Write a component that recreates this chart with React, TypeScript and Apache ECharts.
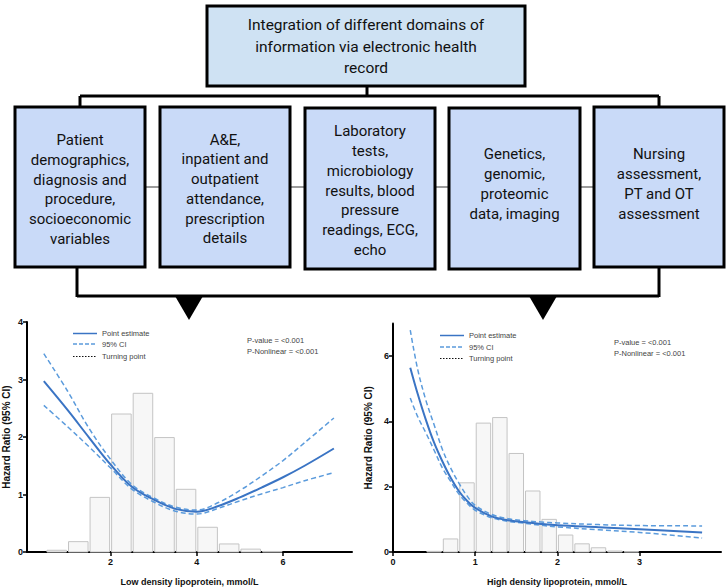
import React, { useEffect, useRef } from "react";
import * as echarts from "echarts";

// ---------- Data ----------
const ldlBinStarts = [0.5, 1.0, 1.5, 2.0, 2.5, 3.0, 3.5, 4.0, 4.5, 5.0, 5.5];
const ldlBinWidth = 0.5;
const ldlBarHeights = [0.03, 0.18, 0.95, 2.4, 2.76, 1.99, 1.09, 0.43, 0.14, 0.05, 0.01];

const ldlX = [0.45, 1.0, 1.5, 2.0, 2.5, 3.0, 3.5, 4.0, 4.5, 5.0, 5.5, 6.0, 6.5, 7.18];
const ldlEst = [2.97, 2.47, 1.99, 1.52, 1.13, 0.91, 0.75, 0.7, 0.8, 0.95, 1.12, 1.3, 1.5, 1.8];
const ldlUpper = [3.45, 2.8, 2.15, 1.61, 1.17, 0.94, 0.78, 0.73, 0.86, 1.07, 1.32, 1.59, 1.9, 2.33];
const ldlLower = [2.55, 2.18, 1.83, 1.46, 1.09, 0.87, 0.71, 0.66, 0.76, 0.89, 1.01, 1.12, 1.24, 1.38];

const hdlBinStarts = [0.4, 0.6, 0.8, 1.0, 1.2, 1.4, 1.6, 1.8, 2.0, 2.2, 2.4, 2.6, 2.8];
const hdlBinWidth = 0.2;
const hdlBarHeights = [0.02, 0.4, 2.12, 3.95, 4.12, 3.02, 1.87, 1.0, 0.52, 0.25, 0.13, 0.03, 0.01];

const hdlX = [0.21, 0.3, 0.4, 0.5, 0.6, 0.7, 0.8, 0.9, 1.0, 1.2, 1.4, 1.6, 1.8, 2.0, 2.5, 3.0, 3.76];
const hdlEst = [5.65, 4.85, 4.05, 3.35, 2.78, 2.28, 1.87, 1.57, 1.35, 1.09, 0.97, 0.91, 0.86, 0.82, 0.76, 0.7, 0.6];
const hdlUpper = [6.8, 5.6, 4.65, 3.9, 3.15, 2.58, 2.12, 1.72, 1.43, 1.15, 1.02, 0.96, 0.92, 0.89, 0.84, 0.81, 0.8];
const hdlLower = [4.72, 4.15, 3.65, 3.12, 2.58, 2.17, 1.78, 1.5, 1.28, 1.05, 0.94, 0.88, 0.82, 0.77, 0.68, 0.6, 0.43];

const ldlXTicks = [2, 4, 6];
const ldlYTicks = [0, 1, 2, 3, 4];
const hdlXTicks = [0, 1, 2, 3];
const hdlYTicks = [0, 2, 4, 6];

const legendLabels = ["Point estimate", "95% CI", "Turning point"];
const statLabels = ["P-value = <0.001", "P-Nonlinear = <0.001"];

const topText = "Integration of different domains of\ninformation via electronic health\nrecord";
const boxTexts = [
  "Patient\ndemographics,\ndiagnosis and\nprocedure,\nsocioeconomic\nvariables",
  "A&E,\ninpatient and\noutpatient\nattendance,\nprescription\ndetails",
  "Laboratory\ntests,\nmicrobiology\nresults, blood\npressure\nreadings, ECG,\necho",
  "Genetics,\ngenomic,\nproteomic\ndata, imaging",
  "Nursing\nassessment,\nPT and OT\nassessment",
];

// ---------- Styles ----------
const SOLID = "#3a74c4";
const DASH = "#5b9bdc";
const CHART_FONT = "'Liberation Sans', Arial, sans-serif";
const BOX_FONT = "Roboto, 'Noto Sans', sans-serif";

function histSeries(starts: number[], width: number, heights: number[], idx: number) {
  return {
    type: "custom",
    xAxisIndex: idx,
    yAxisIndex: idx,
    silent: true,
    z: 1,
    data: starts.map((s, i) => [s, s + width, heights[i]]),
    encode: { x: [0, 1], y: 2 },
    renderItem: (params: any, api: any) => {
      const p0 = api.coord([api.value(0), api.value(2)]);
      const p1 = api.coord([api.value(1), 0]);
      return {
        type: "rect",
        shape: { x: p0[0] + 1, y: p0[1], width: p1[0] - p0[0] - 2, height: p1[1] - p0[1] },
        style: { fill: "#f7f7f7", stroke: "#c4c4c4", lineWidth: 1 },
      };
    },
  };
}

function lineSeries(xs: number[], ys: number[], idx: number, dashed: boolean) {
  return {
    type: "line",
    xAxisIndex: idx,
    yAxisIndex: idx,
    silent: true,
    z: dashed ? 3 : 4,
    smooth: 0.35,
    showSymbol: false,
    symbol: "none",
    data: xs.map((x, i) => [x, ys[i]]),
    lineStyle: dashed
      ? { color: DASH, width: 1.5, type: [5, 3] }
      : { color: SOLID, width: 2 },
  };
}

function xAxisCfg(idx: number, min: number, max: number, ticks: number[], name: string) {
  return {
    type: "value",
    gridIndex: idx,
    min,
    max,
    name,
    nameLocation: "middle",
    nameGap: 25,
    nameTextStyle: { fontFamily: CHART_FONT, fontWeight: "bold", fontSize: 9, color: "#111" },
    axisLine: { show: true, onZero: false, lineStyle: { color: "#000", width: 2 } },
    axisTick: { show: true, length: 4, customValues: ticks, lineStyle: { color: "#000", width: 1.5 } },
    axisLabel: {
      customValues: ticks,
      fontFamily: CHART_FONT,
      fontWeight: "bold",
      fontSize: 9,
      color: "#111",
      margin: 5,
    },
    splitLine: { show: false },
  };
}

function yAxisCfg(idx: number, min: number, max: number, ticks: number[], gap: number) {
  return {
    type: "value",
    gridIndex: idx,
    min,
    max,
    name: "Hazard Ratio (95% CI)",
    nameLocation: "middle",
    nameRotate: 90,
    nameGap: gap,
    nameTextStyle: { fontFamily: CHART_FONT, fontWeight: "bold", fontSize: 10, color: "#111" },
    axisLine: { show: true, onZero: false, lineStyle: { color: "#000", width: 2 } },
    axisTick: { show: true, length: 4, customValues: ticks, lineStyle: { color: "#000", width: 1.5 } },
    axisLabel: {
      customValues: ticks,
      fontFamily: CHART_FONT,
      fontWeight: "bold",
      fontSize: 9,
      color: "#111",
      margin: 4,
    },
    splitLine: { show: false },
  };
}

function legendGraphics(lx: number, tx: number, ys: number[], px: number, pys: number[]) {
  const els: any[] = [];
  const styles = [
    { stroke: SOLID, lineWidth: 1.5 },
    { stroke: DASH, lineWidth: 1.3, lineDash: [4, 2] },
    { stroke: "#111", lineWidth: 1, lineDash: [1.5, 1.5] },
  ];
  legendLabels.forEach((lab, i) => {
    els.push({ type: "line", z: 10, shape: { x1: lx, y1: ys[i], x2: lx + 24, y2: ys[i] }, style: styles[i] });
    els.push({
      type: "text",
      z: 10,
      x: tx,
      y: ys[i],
      style: { text: lab, fontFamily: CHART_FONT, fontSize: 7.5, fill: "#444", align: "left", verticalAlign: "middle" },
    });
  });
  statLabels.forEach((lab, i) => {
    els.push({
      type: "text",
      z: 10,
      x: px,
      y: pys[i],
      style: { text: lab, fontFamily: CHART_FONT, fontSize: 7.5, fill: "#444", align: "left", verticalAlign: "middle" },
    });
  });
  return els;
}

function diagramGraphics() {
  const els: any[] = [];
  const black = "#000";
  const lineEl = (x1: number, y1: number, x2: number, y2: number, stroke = black, w = 3) => ({
    type: "line",
    z: 5,
    shape: { x1, y1, x2, y2 },
    style: { stroke, lineWidth: w },
  });
  // top bracket
  els.push(lineEl(367, 86, 367, 96));
  els.push(lineEl(80, 96, 659, 96));
  els.push(lineEl(80, 96, 80, 108));
  els.push(lineEl(659, 96, 659, 108));
  // bottom bracket
  els.push(lineEl(77, 266, 77, 297));
  els.push(lineEl(659, 266, 659, 297));
  els.push(lineEl(77, 296, 659, 296));
  // triangles
  els.push({ type: "polygon", z: 6, shape: { points: [[175, 296], [203, 296], [189, 320]] }, style: { fill: black } });
  els.push({ type: "polygon", z: 6, shape: { points: [[529, 296], [557, 296], [543, 320]] }, style: { fill: black } });

  // top box
  els.push({
    type: "rect",
    z: 6,
    shape: { x: 207, y: 6, width: 318, height: 80 },
    style: { fill: "#cfe2f3", stroke: black, lineWidth: 3 },
  });
  els.push({
    type: "text",
    z: 7,
    x: 366,
    y: 46.5,
    style: {
      text: topText,
      fontFamily: BOX_FONT,
      fontSize: 15.5,
      lineHeight: 21.3,
      fill: "#111",
      align: "center",
      verticalAlign: "middle",
    },
  });

  // five boxes
  const boxes = [
    { x: 15, y: 107, w: 130, h: 160, cy: 189.5 },
    { x: 160, y: 107, w: 130, h: 160, cy: 189 },
    { x: 305, y: 108, w: 130, h: 161, cy: 190.5 },
    { x: 449, y: 108, w: 131, h: 161, cy: 184 },
    { x: 594, y: 107, w: 130, h: 160, cy: 184 },
  ];
  for (let i = 0; i < boxes.length - 1; i++) {
    els.push(lineEl(boxes[i].x + boxes[i].w, 187, boxes[i + 1].x, 187, "#7a7a7a", 1.5));
  }
  boxes.forEach((b, i) => {
    els.push({
      type: "rect",
      z: 6,
      shape: { x: b.x, y: b.y, width: b.w, height: b.h },
      style: { fill: "#c9daf8", stroke: black, lineWidth: 3 },
    });
    els.push({
      type: "text",
      z: 7,
      x: b.x + b.w / 2,
      y: b.cy,
      style: {
        text: boxTexts[i],
        fontFamily: BOX_FONT,
        fontSize: 15,
        lineHeight: 19.7,
        fill: "#111",
        align: "center",
        verticalAlign: "middle",
      },
    });
  });
  return els;
}

export default function App() {
  const ref = useRef<HTMLDivElement>(null);
  useEffect(() => {
    if (!ref.current) return;
    const chart = echarts.init(ref.current, undefined, { renderer: "svg" });
    const option: any = {
      animation: false,
      backgroundColor: "#ffffff",
      grid: [
        { left: 26, top: 322, width: 326, height: 235 },
        { left: 393, top: 323.6, width: 328, height: 233 },
      ],
      xAxis: [
        xAxisCfg(0, 0.06, 7.6, ldlXTicks, "Low density lipoprotein, mmol/L"),
        xAxisCfg(1, 0, 3.99, hdlXTicks, "High density lipoprotein, mmol/L"),
      ],
      yAxis: [yAxisCfg(0, 0, 4, ldlYTicks, 16), yAxisCfg(1, 0, 7, hdlYTicks, 20)],
      series: [
        histSeries(ldlBinStarts, ldlBinWidth, ldlBarHeights, 0),
        lineSeries(ldlX, ldlUpper, 0, true),
        lineSeries(ldlX, ldlLower, 0, true),
        lineSeries(ldlX, ldlEst, 0, false),
        histSeries(hdlBinStarts, hdlBinWidth, hdlBarHeights, 1),
        lineSeries(hdlX, hdlUpper, 1, true),
        lineSeries(hdlX, hdlLower, 1, true),
        lineSeries(hdlX, hdlEst, 1, false),
      ],
      graphic: [
        ...diagramGraphics(),
        ...legendGraphics(73, 102, [333.5, 344, 356.5], 247, [340, 351.5]),
        ...legendGraphics(440, 469, [335.5, 347, 358.5], 614, [342, 353]),
      ],
    };
    chart.setOption(option);
    return () => chart.dispose();
  }, []);
  return (
    <div
      ref={ref}
      style={{ position: "fixed", left: 0, top: 0, width: 726, height: 587, background: "#fff" }}
    />
  );
}
